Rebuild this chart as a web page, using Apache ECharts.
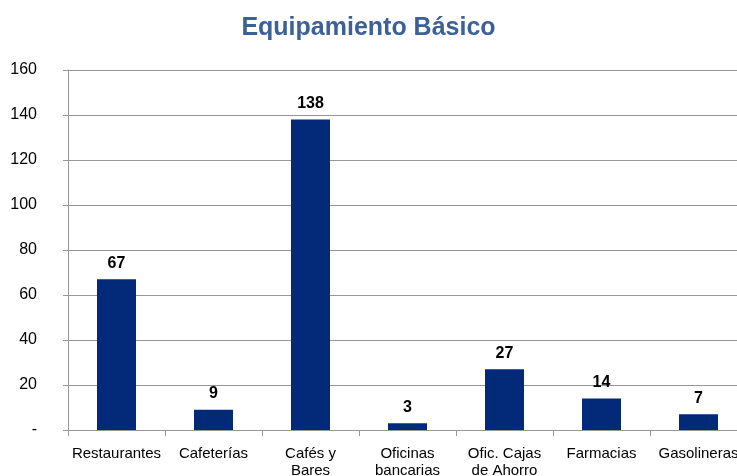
<!DOCTYPE html>
<html><head><meta charset="utf-8">
<script src="https://cdn.jsdelivr.net/npm/echarts@6/dist/echarts.min.js"></script>
<style>html,body{margin:0;padding:0;background:#fff}#c{width:737px;height:476px}</style>
</head><body><div id="c"></div>
<script>
const categories = ['Restaurantes','Cafeterías','Cafés y\nBares','Oficinas\nbancarias','Ofic. Cajas\nde Ahorro','Farmacias','Gasolineras'];
const values = [67, 9, 138, 3, 27, 14, 7];
const titleText = 'Equipamiento Básico';

const chart = echarts.init(document.getElementById('c'), null, {renderer:'canvas'});
chart.setOption({
  animation:false,
  backgroundColor:'#fff',
  title:{text:titleText,left:'center',top:11,textStyle:{fontFamily:'"Liberation Sans Narrow","Arial Narrow","Liberation Sans",sans-serif',fontWeight:'bold',fontSize:25,color:'#3B6198'}},
  grid:{left:68,top:70,width:679,height:360,containLabel:false,outerBoundsMode:'none'},
  xAxis:{type:'category',data:categories,
    axisLine:{lineStyle:{color:'#969696',width:1}},
    axisTick:{show:true,length:6,lineStyle:{color:'#969696'}},
    axisLabel:{color:'#000',fontFamily:'"Liberation Sans Narrow","Liberation Sans",Arial,sans-serif',fontSize:15,margin:15,lineHeight:17,interval:0}},
  yAxis:{type:'value',min:0,max:160,interval:20,
    axisLine:{show:true,lineStyle:{color:'#969696'}},
    axisTick:{show:true,length:5,lineStyle:{color:'#969696'}},
    splitLine:{lineStyle:{color:'#969696'}},
    axisLabel:{color:'#000',fontFamily:'"Liberation Sans",Arial,sans-serif',fontSize:16,margin:31,
      formatter:v=>v===0?'-':String(v)}},
  series:[{type:'bar',data:values,barWidth:39,itemStyle:{color:'#022A78'},
    label:{show:true,position:'top',distance:8,color:'#000',fontWeight:'bold',fontSize:16,fontFamily:'"Liberation Sans",Arial,sans-serif'}}]
});
</script></body></html>
